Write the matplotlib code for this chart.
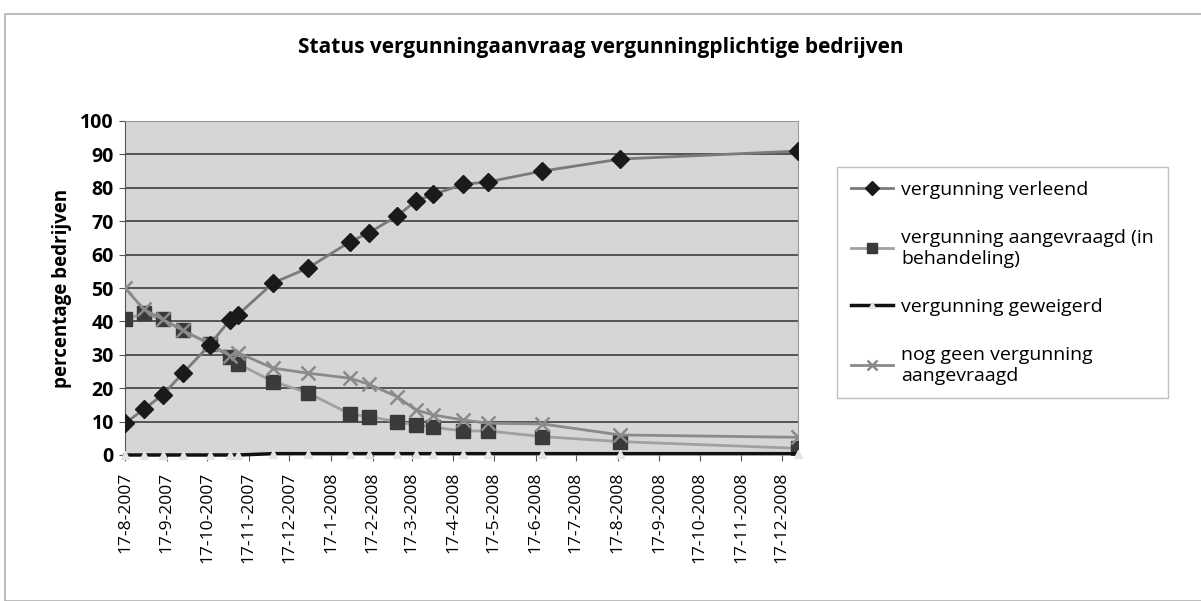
import datetime as dt
import matplotlib
matplotlib.use("Agg")
import matplotlib.pyplot as plt
import matplotlib.dates as mdates
from matplotlib.patches import Rectangle
from matplotlib.ticker import FuncFormatter

plt.rcParams['font.family'] = ['Open Sans', 'DejaVu Sans']

# ── data ─────────────────────────────────────────────────────────────────
dates = ["2007-08-17", "2007-08-31", "2007-09-14", "2007-09-29", "2007-10-19",
         "2007-11-03", "2007-11-09", "2007-12-05", "2007-12-31", "2008-01-31",
         "2008-02-14", "2008-03-06", "2008-03-20", "2008-04-02", "2008-04-24",
         "2008-05-13", "2008-06-22", "2008-08-19", "2008-12-29"]
verleend    = [9.5, 13.7, 18, 24.5, 33, 40.5, 42, 51.5, 56, 63.8,
               66.5, 71.5, 76, 78, 81, 81.8, 85, 88.6, 91]
aangevraagd = [40.6, 42.4, 40.6, 37.3, 33.2, 29.2, 27.3, 22, 18.6, 12.3,
               11.5, 10, 9, 8.3, 7.2, 7.2, 5.5, 4, 2]
geweigerd   = [0, 0, 0, 0, 0, 0, 0, 0.4, 0.4, 0.4,
               0.4, 0.4, 0.4, 0.4, 0.4, 0.4, 0.4, 0.4, 0.4]
nog_geen    = [50, 43.6, 40.6, 37.3, 33.3, 29.7, 30.6, 26, 24.5, 23,
               21.2, 17.5, 13.5, 12, 10.5, 9.5, 9.3, 6, 5.3]

tick_months = [(2007, m) for m in range(8, 13)] + [(2008, m) for m in range(1, 13)]

x = [dt.datetime.strptime(d, "%Y-%m-%d") for d in dates]
ticks = [dt.datetime(y, m, 17) for y, m in tick_months]

fig = plt.figure(figsize=(12.01, 6.01), dpi=100)
fig.patch.set_facecolor("white")
fig.add_artist(Rectangle((5/1201, 0.0), 1.0, 1-14/601, transform=fig.transFigure,
                         fill=False, edgecolor="#b0b0b0", lw=1.2))

ax = fig.add_axes([125/1201, 1-455/601, (798-125)/1201, (455-121)/601])
ax.set_facecolor("#d6d6d6")
ax.set_ylim(0, 100)
ax.set_xlim(x[0], x[-1])
ax.set_yticks(range(0, 101, 10))
ax.grid(axis="y", color="#4a4a4a", lw=1.3)
ax.set_axisbelow(True)

ax.plot(x, verleend, color="#7a7a7a", lw=2, marker="D", ms=9,
        mfc="#1a1a1a", mec="#1a1a1a", label="vergunning verleend", zorder=4)
ax.plot(x, aangevraagd, color="#a0a0a0", lw=2, marker="s", ms=10,
        mfc="#3a3a3a", mec="#3a3a3a", label="vergunning aangevraagd (in\nbehandeling)", zorder=3)
ax.plot(x, geweigerd, color="#111111", lw=2.5, marker="^", ms=6,
        mfc="#e4e4e4", mec="#e4e4e4", label="vergunning geweigerd", zorder=5, clip_on=False)
ax.plot(x, nog_geen, color="#8a8a8a", lw=2, marker="x", ms=10, mew=1.8,
        label="nog geen vergunning\naangevraagd", zorder=3)

ax.set_xticks(ticks)
ax.xaxis.set_major_formatter(FuncFormatter(
    lambda v, p: (lambda d: f"{d.day}-{d.month}-{d.year}")(mdates.num2date(v))))
for lab in ax.get_xticklabels():
    lab.set_rotation(90)
ax.tick_params(axis="x", labelsize=12.5, length=4, color="#555555", pad=8)
ax.tick_params(axis="y", labelsize=14, length=4, color="#555555", pad=4)
for lab in ax.get_yticklabels():
    lab.set_fontweight("bold")
for side in ["top", "right"]:
    ax.spines[side].set_color("#9a9a9a")
ax.spines["left"].set_color("#555555")
ax.spines["bottom"].set_visible(False)
ax.set_ylabel("percentage bedrijven", fontsize=13.5, fontweight="bold", labelpad=6)

fig.text(0.5, 1-48/601, "Status vergunningaanvraag vergunningplichtige bedrijven",
         ha="center", va="center", fontsize=15, fontweight="bold")

leg = fig.legend(loc="upper left", bbox_to_anchor=(837/1201, 1-167/601),
                 fontsize=14, labelspacing=1.55, handlelength=2.2, handletextpad=0.4,
                 markerscale=0.75, borderpad=0.7, borderaxespad=0, frameon=True,
                 fancybox=False, edgecolor="#b0b0b0")
leg.get_frame().set_linewidth(1.0)

fig.savefig("out.png", dpi=100, facecolor="white")
